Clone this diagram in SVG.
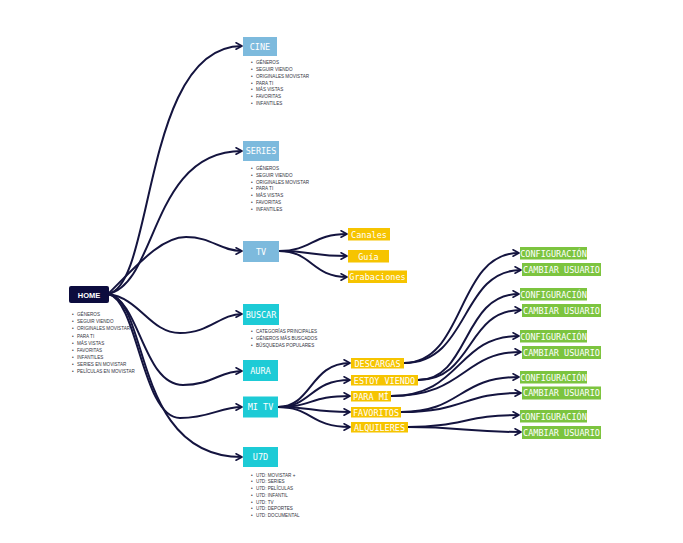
<svg xmlns="http://www.w3.org/2000/svg" width="683" height="543" viewBox="0 0 683 543">
<defs>
<marker id="ar" viewBox="0 0 8 8" refX="7" refY="4" markerWidth="8" markerHeight="8" markerUnits="userSpaceOnUse" orient="auto">
<path d="M1,0.8 L7,4 L1,7.2" fill="none" stroke="#14143f" stroke-width="1.6" stroke-linecap="round" stroke-linejoin="round"/>
</marker>
<style>
.c{fill:none;stroke:#14143f;stroke-width:2;marker-end:url(#ar)}
.home{fill:#0c0c3e}
.lb{fill:#7dbadd}
.cy{fill:#1dcbd6}
.ye{fill:#f6c400}
.gr{fill:#7cc43f}
.t{font-family:"DejaVu Sans Mono",monospace;font-size:8.5px;fill:#fff;text-anchor:middle}
.th{font-family:"Liberation Sans",Arial,sans-serif;font-weight:bold;font-size:7.5px;fill:#fff;text-anchor:middle}
.li{font-family:"Liberation Sans",Arial,sans-serif;font-size:4.6px;fill:#333340}
</style>
</defs>
<rect width="683" height="543" fill="#fff"/>
<g id="connectors">
<path class="c" d="M108,294 C155,286 142,46 242,46"/>
<path class="c" d="M108,294 C158,284 150,151 242,151"/>
<path class="c" d="M108,294 C140,262 162,237 186,237 C212,237 220,251 242,251"/>
<path class="c" d="M108,294 C140,298 150,333 180,333 C210,333 220,314 242,314"/>
<path class="c" d="M108,294 C140,300 143,385 183,385 C212,385 220,371 242,371"/>
<path class="c" d="M108,294 C138,300 142,418 180,418 C210,418 220,407 242,407"/>
<path class="c" d="M108,294 C150,300 132,457 242,457"/>
<path class="c" d="M279,251 C312,251 312,234 347,234"/>
<path class="c" d="M279,251 C312,251 312,256 347,256"/>
<path class="c" d="M279,251 C312,251 312,277 347,277"/>
<path class="c" d="M278,407 C312,407 310,363 350,363"/>
<path class="c" d="M278,407 C312,407 310,380 350,380"/>
<path class="c" d="M278,407 C312,407 310,396 350,396"/>
<path class="c" d="M278,407 C312,407 310,412 350,412"/>
<path class="c" d="M278,407 C312,407 310,427 350,427"/>
<path class="c" d="M404,363 C466,363 456,253 519,253"/>
<path class="c" d="M404,363 C470,363 460,270 521,270"/>
<path class="c" d="M418,380 C470,380 462,294 519,294"/>
<path class="c" d="M418,380 C474,380 466,310 521,310"/>
<path class="c" d="M391,396 C462,396 456,336 519,336"/>
<path class="c" d="M391,396 C466,396 462,352 521,352"/>
<path class="c" d="M401,412 C462,412 458,377 519,377"/>
<path class="c" d="M401,412 C466,412 462,393 521,393"/>
<path class="c" d="M408,427 C462,427 466,415 519,415"/>
<path class="c" d="M408,427 C462,427 466,432 521,432"/>
</g>
<g id="home">
<rect class="home" x="69" y="286" width="40" height="17" rx="2"/>
<text class="th" x="89" y="297.5">HOME</text>
<g class="li">
<text x="72" y="316">•<tspan x="77">GÉNEROS</tspan></text>
<text x="72" y="323">•<tspan x="77">SEGUIR VIENDO</tspan></text>
<text x="72" y="330">•<tspan x="77">ORIGINALES MOVISTAR</tspan></text>
<text x="72" y="337.5">•<tspan x="77">PARA TI</tspan></text>
<text x="72" y="344.5">•<tspan x="77">MÁS VISTAS</tspan></text>
<text x="72" y="351.5">•<tspan x="77">FAVORITAS</tspan></text>
<text x="72" y="358.5">•<tspan x="77">INFANTILES</tspan></text>
<text x="72" y="365.5">•<tspan x="77">SERIES EN MOVISTAR</tspan></text>
<text x="72" y="372.5">•<tspan x="77">PELÍCULAS EN MOVISTAR</tspan></text>
</g>
</g>
<g id="cine">
<rect class="lb" x="243" y="37" width="34" height="19"/>
<text class="t" x="260" y="49.5">CINE</text>
<g class="li">
<text x="251" y="64">•<tspan x="256">GÉNEROS</tspan></text>
<text x="251" y="71">•<tspan x="256">SEGUIR VIENDO</tspan></text>
<text x="251" y="77.5">•<tspan x="256">ORIGINALES MOVISTAR</tspan></text>
<text x="251" y="84.5">•<tspan x="256">PARA TI</tspan></text>
<text x="251" y="91">•<tspan x="256">MÁS VISTAS</tspan></text>
<text x="251" y="98">•<tspan x="256">FAVORITAS</tspan></text>
<text x="251" y="104.5">•<tspan x="256">INFANTILES</tspan></text>
</g>
</g>
<g id="series">
<rect class="lb" x="243" y="141" width="36" height="20"/>
<text class="t" x="261" y="154">SERIES</text>
<g class="li">
<text x="251" y="170">•<tspan x="256">GÉNEROS</tspan></text>
<text x="251" y="176.5">•<tspan x="256">SEGUIR VIENDO</tspan></text>
<text x="251" y="183.5">•<tspan x="256">ORIGINALES MOVISTAR</tspan></text>
<text x="251" y="190">•<tspan x="256">PARA TI</tspan></text>
<text x="251" y="197">•<tspan x="256">MÁS VISTAS</tspan></text>
<text x="251" y="203.5">•<tspan x="256">FAVORITAS</tspan></text>
<text x="251" y="210.5">•<tspan x="256">INFANTILES</tspan></text>
</g>
</g>
<g id="tv">
<rect class="lb" x="243" y="241" width="36" height="21"/>
<text class="t" x="261" y="254.5">TV</text>
</g>
<g id="canales">
<rect class="ye" x="348" y="228" width="42" height="12.5"/>
<text class="t" x="369" y="237.5">Canales</text>
</g>
<g id="guia">
<rect class="ye" x="348" y="250" width="41" height="12.5"/>
<text class="t" x="368.5" y="259.5">Guía</text>
</g>
<g id="grabaciones">
<rect class="ye" x="348" y="270.5" width="59" height="12.5"/>
<text class="t" x="377.5" y="280">Grabaciones</text>
</g>
<g id="buscar">
<rect class="cy" x="243" y="304" width="36" height="21"/>
<text class="t" x="261" y="317.5">BUSCAR</text>
<g class="li">
<text x="251" y="332.5">•<tspan x="256">CATEGORÍAS PRINCIPALES</tspan></text>
<text x="251" y="339.5">•<tspan x="256">GÉNEROS MÁS BUSCADOS</tspan></text>
<text x="251" y="346.5">•<tspan x="256">BÚSQUEDAS POPULARES</tspan></text>
</g>
</g>
<g id="aura">
<rect class="cy" x="243" y="360" width="35" height="21"/>
<text class="t" x="260.5" y="373.5">AURA</text>
</g>
<g id="mitv">
<rect class="cy" x="243" y="396.5" width="35" height="21"/>
<text class="t" x="260.5" y="410">MI TV</text>
</g>
<g id="u7d">
<rect class="cy" x="243" y="447" width="35" height="20"/>
<text class="t" x="260.5" y="460">U7D</text>
<g class="li">
<text x="251" y="476.5">•<tspan x="256">U7D: MOVISTAR +</tspan></text>
<text x="251" y="483">•<tspan x="256">U7D: SERIES</tspan></text>
<text x="251" y="490">•<tspan x="256">U7D: PELÍCULAS</tspan></text>
<text x="251" y="496.5">•<tspan x="256">U7D: INFANTIL</tspan></text>
<text x="251" y="503.5">•<tspan x="256">U7D: TV</tspan></text>
<text x="251" y="510">•<tspan x="256">U7D: DEPORTES</tspan></text>
<text x="251" y="517">•<tspan x="256">U7D: DOCUMENTAL</tspan></text>
</g>
</g>
<g id="descargas">
<rect class="ye" x="351" y="358" width="53" height="10.5"/>
<text class="t" x="377.5" y="366.5">DESCARGAS</text>
</g>
<g id="estoyviendo">
<rect class="ye" x="351" y="375" width="67" height="10.5"/>
<text class="t" x="384.5" y="383.5">ESTOY VIENDO</text>
</g>
<g id="parami">
<rect class="ye" x="351" y="391" width="40" height="10.5"/>
<text class="t" x="371" y="399.5">PARA MÍ</text>
</g>
<g id="favoritos">
<rect class="ye" x="351" y="407" width="50" height="10.5"/>
<text class="t" x="376" y="415.5">FAVORITOS</text>
</g>
<g id="alquileres">
<rect class="ye" x="351" y="422" width="57" height="10.5"/>
<text class="t" x="379.5" y="430.5">ALQUILERES</text>
</g>
<g id="config1"><rect class="gr" x="520" y="247" width="67" height="12.5"/><text class="t" x="553.5" y="256.5">CONFIGURACIÓN</text></g>
<g id="cambiar1"><rect class="gr" x="522" y="263" width="79" height="13"/><text class="t" x="561.5" y="272.5">CAMBIAR USUARIO</text></g>
<g id="config2"><rect class="gr" x="520" y="288" width="67" height="12.5"/><text class="t" x="553.5" y="297.5">CONFIGURACIÓN</text></g>
<g id="cambiar2"><rect class="gr" x="522" y="304" width="79" height="13"/><text class="t" x="561.5" y="313.5">CAMBIAR USUARIO</text></g>
<g id="config3"><rect class="gr" x="520" y="330" width="67" height="12.5"/><text class="t" x="553.5" y="339.5">CONFIGURACIÓN</text></g>
<g id="cambiar3"><rect class="gr" x="522" y="346" width="79" height="13"/><text class="t" x="561.5" y="355.5">CAMBIAR USUARIO</text></g>
<g id="config4"><rect class="gr" x="520" y="371" width="67" height="12.5"/><text class="t" x="553.5" y="380.5">CONFIGURACIÓN</text></g>
<g id="cambiar4"><rect class="gr" x="522" y="386.5" width="79" height="13"/><text class="t" x="561.5" y="396">CAMBIAR USUARIO</text></g>
<g id="config5"><rect class="gr" x="520" y="410" width="67" height="12.5"/><text class="t" x="553.5" y="419.5">CONFIGURACIÓN</text></g>
<g id="cambiar5"><rect class="gr" x="522" y="426" width="79" height="13"/><text class="t" x="561.5" y="435.5">CAMBIAR USUARIO</text></g>
</svg>
